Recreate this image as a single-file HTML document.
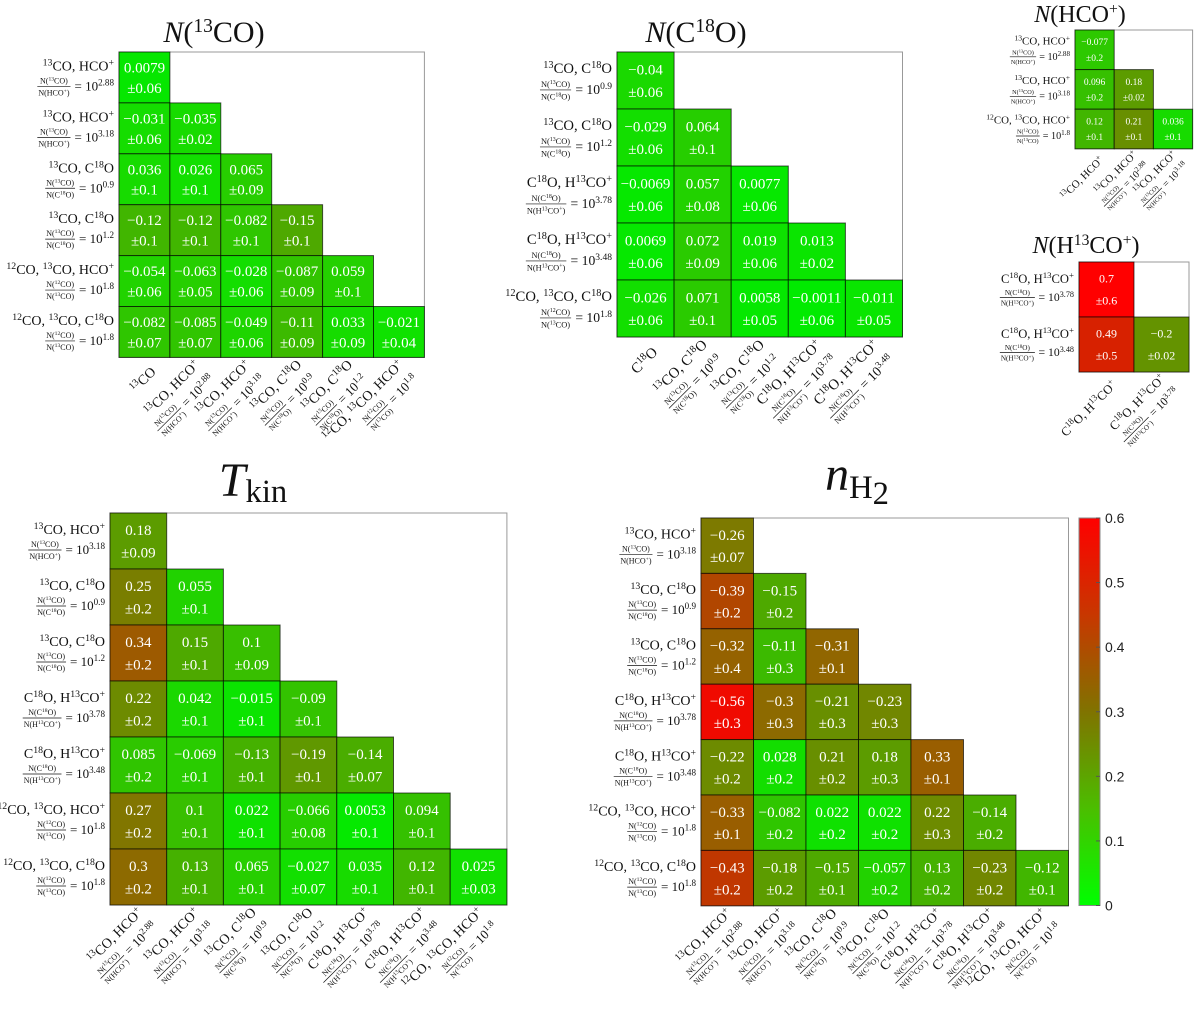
<!DOCTYPE html>
<html><head><meta charset="utf-8">
<style>
html,body{margin:0;padding:0;background:#fff;}
svg{display:block;font-family:"Liberation Serif",serif;}
</style></head>
<body>
<svg id="fig" width="1200" height="1028" viewBox="0 0 1200 1028" xmlns="http://www.w3.org/2000/svg">
<defs>
<linearGradient id="cbgrad" x1="0" y1="1" x2="0" y2="0">
<stop offset="0" stop-color="rgb(0,255,0)"/>
<stop offset="0.25" stop-color="rgb(75,190,0)"/>
<stop offset="0.5" stop-color="rgb(128,115,0)"/>
<stop offset="0.75" stop-color="rgb(200,55,0)"/>
<stop offset="1" stop-color="rgb(255,0,0)"/>
</linearGradient>
</defs>
</svg>
<script>
// ---------- data ----------
const p1Rows = ['A','B','C','D','G','H'];
const p1Cols = ['13CO','A','B','C','D','G'];
const p1Vals = [[0.0079],[-0.031,-0.035],[0.036,0.026,0.065],[-0.12,-0.12,-0.082,-0.15],[-0.054,-0.063,-0.028,-0.087,0.059],[-0.082,-0.085,-0.049,-0.11,0.033,-0.021]];
const p1Errs = [[0.06],[0.06,0.02],[0.1,0.1,0.09],[0.1,0.1,0.1,0.1],[0.06,0.05,0.06,0.09,0.1],[0.07,0.07,0.06,0.09,0.09,0.04]];

const p2Rows = ['C','D','E','F','H'];
const p2Cols = ['C18O','C','D','E','F'];
const p2Vals = [[-0.04],[-0.029,0.064],[-0.0069,0.057,0.0077],[0.0069,0.072,0.019,0.013],[-0.026,0.071,0.0058,-0.0011,-0.011]];
const p2Errs = [[0.06],[0.06,0.1],[0.06,0.08,0.06],[0.06,0.09,0.06,0.02],[0.06,0.1,0.05,0.06,0.05]];

const p3Rows = ['A','B','G'];
const p3Cols = ['HCOp','A','B'];
const p3Vals = [[-0.077],[0.096,0.18],[0.12,0.21,0.036]];
const p3Errs = [[0.2],[0.2,0.02],[0.1,0.1,0.1]];

const p4Rows = ['E','F'];
const p4Cols = ['H13COp','E'];
const p4Vals = [[0.7],[0.49,-0.2]];
const p4Errs = [[0.6],[0.5,0.02]];

const p5Rows = ['B','C','D','E','F','G','H'];
const p5Cols = ['A','B','C','D','E','F','G'];
const p5Vals = [[0.18],[0.25,0.055],[0.34,0.15,0.1],[0.22,0.042,-0.015,-0.09],[0.085,-0.069,-0.13,-0.19,-0.14],[0.27,0.1,0.022,-0.066,0.0053,0.094],[0.3,0.13,0.065,-0.027,0.035,0.12,0.025]];
const p5Errs = [[0.09],[0.2,0.1],[0.2,0.1,0.09],[0.2,0.1,0.1,0.1],[0.2,0.1,0.1,0.1,0.07],[0.2,0.1,0.1,0.08,0.1,0.1],[0.2,0.1,0.1,0.07,0.1,0.1,0.03]];

const p6Rows = ['B','C','D','E','F','G','H'];
const p6Cols = ['A','B','C','D','E','F','G'];
const p6Vals = [[-0.26],[-0.39,-0.15],[-0.32,-0.11,-0.31],[-0.56,-0.3,-0.21,-0.23],[-0.22,0.028,0.21,0.18,0.33],[-0.33,-0.082,0.022,0.022,0.22,-0.14],[-0.43,-0.18,-0.15,-0.057,0.13,-0.23,-0.12]];
const p6Errs = [[0.07],[0.2,0.2],[0.4,0.3,0.1],[0.3,0.3,0.3,0.3],[0.2,0.2,0.2,0.3,0.1],[0.1,0.2,0.2,0.2,0.3,0.2],[0.2,0.2,0.1,0.2,0.2,0.2,0.1]];

const cbTicks = [0,0.1,0.2,0.3,0.4,0.5,0.6];
const cbMax = 0.6;

const labelDefs = {
  'A':{sp:'^{13}CO, HCO^{+}',num:'N(^{13}CO)',den:'N(HCO^{+})',ex:'2.88'},
  'B':{sp:'^{13}CO, HCO^{+}',num:'N(^{13}CO)',den:'N(HCO^{+})',ex:'3.18'},
  'C':{sp:'^{13}CO, C^{18}O',num:'N(^{13}CO)',den:'N(C^{18}O)',ex:'0.9'},
  'D':{sp:'^{13}CO, C^{18}O',num:'N(^{13}CO)',den:'N(C^{18}O)',ex:'1.2'},
  'E':{sp:'C^{18}O, H^{13}CO^{+}',num:'N(C^{18}O)',den:'N(H^{13}CO^{+})',ex:'3.78'},
  'F':{sp:'C^{18}O, H^{13}CO^{+}',num:'N(C^{18}O)',den:'N(H^{13}CO^{+})',ex:'3.48'},
  'G':{sp:'^{12}CO, ^{13}CO, HCO^{+}',num:'N(^{12}CO)',den:'N(^{13}CO)',ex:'1.8'},
  'H':{sp:'^{12}CO, ^{13}CO, C^{18}O',num:'N(^{12}CO)',den:'N(^{13}CO)',ex:'1.8'},
  '13CO':{sp:'^{13}CO'},
  'C18O':{sp:'C^{18}O'},
  'HCOp':{sp:'^{13}CO, HCO^{+}'},
  'H13COp':{sp:'C^{18}O, H^{13}CO^{+}'}
};

// ---------- helpers ----------
const NS='http://www.w3.org/2000/svg';
const svg=document.getElementById('fig');
function el(tag,attrs,parent){const e=document.createElementNS(NS,tag);for(const k in attrs)e.setAttribute(k,attrs[k]);(parent||svg).appendChild(e);return e;}
function rich(textEl,str){
  const parts=str.split(/\^\{([^}]*)\}/);
  parts.forEach((p,i)=>{
    if(!p)return;
    const t=document.createElementNS(NS,'tspan');
    if(i%2===1){t.setAttribute('baseline-shift','super');t.setAttribute('font-size','70%');}
    t.textContent=p;textEl.appendChild(t);
  });
}
function colorFor(v){
  const t=Math.min(Math.abs(v)/cbMax,1);
  const r=Math.round(255*Math.pow(t,0.85));
  const g=Math.round(235*Math.pow(1-t,1.15));
  return 'rgb('+r+','+g+',0)';
}
function fmt(v){return String(v).replace('-','\u2212');}

function drawLabel(parent,key,x,y,s){
  const d=labelDefs[key];
  if(!d.num){
    const t=el('text',{x:x,y:y+5*s,'text-anchor':'end','font-size':14*s,fill:'#111'},parent);
    rich(t,d.sp);return;
  }
  const t1=el('text',{x:x,y:y-5*s,'text-anchor':'end','font-size':14*s,fill:'#111'},parent);
  rich(t1,d.sp);
  const eq=el('text',{x:x,y:y+15*s,'text-anchor':'end','font-size':13*s,fill:'#111'},parent);
  rich(eq,'= 10^{'+d.ex+'}');
  const w=eq.getComputedTextLength();
  const n=el('text',{x:0,y:y+8*s,'text-anchor':'middle','font-size':8*s,fill:'#111'},parent);
  rich(n,d.num);
  const dn=el('text',{x:0,y:y+20*s,'text-anchor':'middle','font-size':8*s,fill:'#111'},parent);
  rich(dn,d.den);
  const fw=Math.max(n.getComputedTextLength(),dn.getComputedTextLength())+2;
  const fx=x-w-4*s-fw/2;
  n.setAttribute('x',fx);dn.setAttribute('x',fx);
  el('line',{x1:fx-fw/2,x2:fx+fw/2,y1:y+11*s,y2:y+11*s,stroke:'#111','stroke-width':0.7},parent);
}

function drawPanel(name,rows,cols,vals,errs,geo){
  const g=el('g',{});
  
  
  const n=rows.length;
  const xs=i=>geo.left+i*geo.cw;
  const ys=j=>geo.top+j*geo.ch;
  const fr=el('rect',{x:geo.left,y:geo.top,width:n*geo.cw,height:n*geo.ch,fill:'#fff',stroke:'#999','stroke-width':1},g);
  
  
  for(let r=0;r<n;r++){
    for(let c=0;c<=r;c++){
      const v=vals[r][c],e=errs[r][c];
      const cg=el('g',{},g);
      
      
      el('rect',{x:xs(c),y:ys(r),width:geo.cw,height:geo.ch,fill:colorFor(v),stroke:'rgba(0,0,0,0.65)','stroke-width':1},cg);
      const cx=xs(c)+geo.cw/2,cy=ys(r)+geo.ch/2;
      const t1=el('text',{x:cx,y:cy-geo.ch*0.2+geo.fs*0.35,'text-anchor':'middle','font-size':geo.fs,fill:'#fff'},cg);
      t1.textContent=fmt(v);
      const t2=el('text',{x:cx,y:cy+geo.ch*0.2+geo.fs*0.35,'text-anchor':'middle','font-size':geo.fs,fill:'#fff'},cg);
      t2.textContent='\u00b1'+String(e);
    }
  }
  rows.forEach((k,r)=>{
    const lg=el('g',{},g);
    
    
    drawLabel(lg,k,geo.left-5,ys(r)+geo.ch/2-2*geo.ls,geo.ls);
  });
  cols.forEach((k,c)=>{
    const lg=el('g',{transform:'translate('+(xs(c)+geo.cw/2+3*geo.ls)+','+(geo.top+n*geo.ch+6*geo.ls)+') rotate(-45)'},g);
    
    
    drawLabel(lg,k,0,8*geo.ls,geo.ls);
  });
  const tt=el('text',{x:geo.tx,y:geo.ty,'text-anchor':'middle','font-size':geo.tfs,fill:'#111'},g);
  
  
  geo.title.forEach(p=>{
    const s=document.createElementNS(NS,'tspan');
    if(p.i)s.setAttribute('font-style','italic');
    if(p.sup){s.setAttribute('baseline-shift','super');s.setAttribute('font-size','65%');}
    if(p.sub){s.setAttribute('dy',p.dy);s.setAttribute('font-size','68%');}
    s.textContent=p.t;tt.appendChild(s);
  });
}

drawPanel('panel-n13co',p1Rows,p1Cols,p1Vals,p1Errs,{left:119,top:52,cw:50.9,ch:50.9,fs:15,ls:1,tx:214,ty:42,tfs:30,
  title:[{t:'N',i:1},{t:'('},{t:'13',sup:1},{t:'CO)'}]});
drawPanel('panel-nc18o',p2Rows,p2Cols,p2Vals,p2Errs,{left:617,top:52,cw:57.1,ch:57.0,fs:15,ls:1.05,tx:696,ty:42,tfs:30,
  title:[{t:'N',i:1},{t:'(C'},{t:'18',sup:1},{t:'O)'}]});
drawPanel('panel-nhcop',p3Rows,p3Cols,p3Vals,p3Errs,{left:1075,top:30,cw:39.2,ch:39.6,fs:9.5,ls:0.78,tx:1080,ty:22,tfs:24,
  title:[{t:'N',i:1},{t:'(HCO'},{t:'+',sup:1},{t:')'}]});
drawPanel('panel-nh13cop',p4Rows,p4Cols,p4Vals,p4Errs,{left:1079,top:262,cw:55,ch:55,fs:12,ls:0.9,tx:1086,ty:253,tfs:24,
  title:[{t:'N',i:1},{t:'(H'},{t:'13',sup:1},{t:'CO'},{t:'+',sup:1},{t:')'}]});
drawPanel('panel-tkin',p5Rows,p5Cols,p5Vals,p5Errs,{left:110,top:513,cw:56.7,ch:56.0,fs:15,ls:1,tx:253,ty:496,tfs:48,
  title:[{t:'T',i:1},{t:'kin',sub:1,dy:6}]});
drawPanel('panel-nh2',p6Rows,p6Cols,p6Vals,p6Errs,{left:701,top:518,cw:52.5,ch:55.4,fs:15,ls:1,tx:857,ty:490,tfs:48,
  title:[{t:'n',i:1},{t:'H',sub:1,dy:8},{t:'2',sub:1,dy:6}]});

// colorbar
const cbTop=518,cbBot=905.5,cbX=1079,cbW=21;
const cbY=v=>cbBot-(v/cbMax)*(cbBot-cbTop);
const cb=el('g',{});


el('rect',{x:cbX,y:cbTop,width:cbW,height:cbBot-cbTop,fill:'url(#cbgrad)',stroke:'#888','stroke-width':1},cb);
cbTicks.forEach(v=>{
  const y=cbY(v);
  el('line',{x1:cbX+cbW-4,x2:cbX+cbW,y1:y,y2:y,stroke:'#555','stroke-width':1},cb);
  const t=el('text',{x:cbX+cbW+5,y:y+5,'font-size':14,'font-family':'Liberation Sans, sans-serif',fill:'#222'},cb);
  
  
  t.textContent=String(v);
});
</script>
</body></html>
